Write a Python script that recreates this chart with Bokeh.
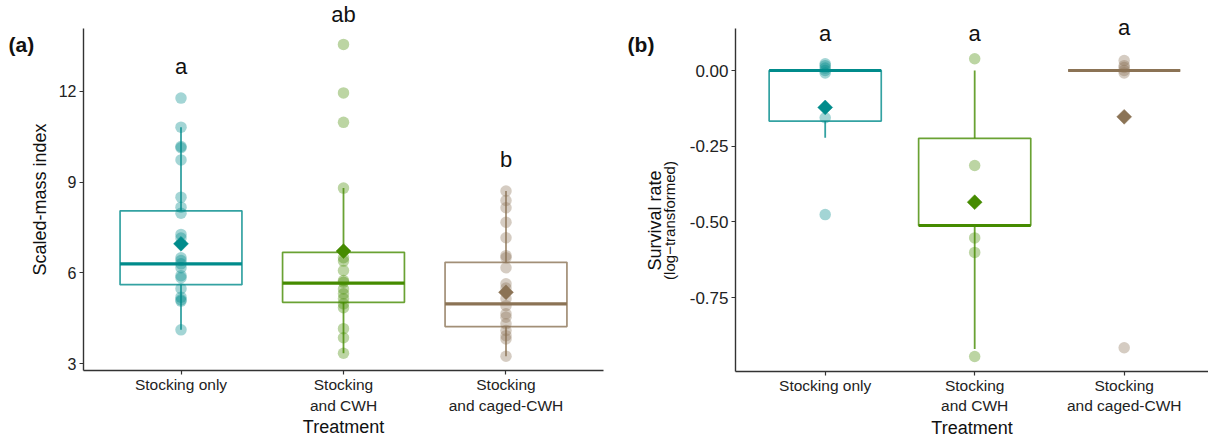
import numpy as np
from bokeh.plotting import figure
from bokeh.models import ColumnDataSource, FixedTicker, Range1d, Label, LabelSet
from bokeh.core.properties import value
from bokeh.layouts import row
from bokeh.embed import file_html
from bokeh.resources import INLINE

# ---------------- data ----------------
categories = ["Stocking only", "Stocking\nand CWH", "Stocking\nand caged-CWH"]
cat_pos = [1, 2, 3]
colors_dark = ["#008B8B", "#458B00", "#8B7355"]

# panel (a): scaled-mass index
smi_g1 = [11.77, 10.81, 10.17, 10.13, 9.73, 8.50, 8.17, 7.97, 7.27, 7.15, 6.50, 6.41,
          6.30, 6.17, 5.91, 5.84, 5.48, 5.20, 5.11, 5.07, 4.12]
smi_g2 = [13.54, 11.94, 10.97, 8.80, 6.50, 6.39, 6.08, 5.75, 5.69, 5.47, 5.31, 5.15,
          4.98, 4.85, 4.16, 3.86, 3.35]
smi_g3 = [8.70, 8.39, 8.15, 7.67, 7.16, 6.57, 6.50, 6.17, 5.64, 5.50, 5.15, 4.92,
          4.65, 4.54, 4.32, 4.10, 3.93, 3.82, 3.25]
smi_q1 = [5.61, 5.03, 4.23]
smi_med = [6.30, 5.66, 4.98]
smi_q3 = [8.05, 6.68, 6.35]
smi_wlo = [4.12, 3.35, 3.25]
smi_whi = [10.81, 8.80, 8.70]
smi_mean = [6.96, 6.72, 5.36]
smi_letters = ["a", "ab", "b"]
smi_letter_y = [12.57, 14.27, 9.49]
smi_ticks = [3, 6, 9, 12]
smi_tick_labels = ["3", "6", "9", "12"]

# panel (b): survival rate (log-transformed)
surv_g1 = [0.022, 0.016, 0.008, 0.0, -0.008, -0.156, -0.476]
surv_g2 = [0.039, -0.314, -0.553, -0.601, -0.945]
surv_g3 = [0.033, 0.016, 0.010, 0.0, -0.008, -0.916]
surv_q1 = [-0.167, -0.512, 0.0]
surv_med = [0.0, -0.512, 0.0]
surv_q3 = [0.0, -0.224, 0.0]
surv_wlo = [-0.222, -0.920, 0.0]
surv_whi = [0.0, 0.0, 0.0]
surv_mean = [-0.122, -0.435, -0.153]
surv_letters = ["a", "a", "a"]
surv_letter_y = [0.096, 0.096, 0.118]
surv_ticks = [0.0, -0.25, -0.5, -0.75]
surv_tick_labels = ["0.00", "-0.25", "-0.50", "-0.75"]

FONT = "Liberation Sans"
HALF = 0.375
TXT = "#111111"


def make_panel(width, xr, yr, xb, yb, groups, q1, med, q3, wlo, whi, mean,
               letters, letter_y, ticks, tick_labels, ytick_size, ylabel, tag, tag_xy):
    # the frame covers the whole canvas; axes are pinned with fixed_location
    p = figure(width=width, height=442, output_backend="svg", toolbar_location=None,
               title=None, x_range=Range1d(*xr), y_range=Range1d(*yr),
               min_border_left=0, min_border_right=0, min_border_top=0,
               min_border_bottom=0)
    p.grid.visible = False
    p.outline_line_color = None
    p.background_fill_color = "white"
    p.border_fill_color = "white"

    # boxes
    box = ColumnDataSource(dict(
        x=cat_pos, left=[c - HALF for c in cat_pos], right=[c + HALF for c in cat_pos],
        q1=q1, med=med, q3=q3, wlo=wlo, whi=whi, mean=mean, color=colors_dark))
    p.segment(x0="x", x1="x", y0="q3", y1="whi", source=box, line_color="color",
              line_alpha=0.8, line_width=1.8)
    p.segment(x0="x", x1="x", y0="q1", y1="wlo", source=box, line_color="color",
              line_alpha=0.8, line_width=1.8)
    p.quad(left="left", right="right", bottom="q1", top="q3", source=box,
           fill_color=None, line_color="color", line_alpha=0.8, line_width=1.7)
    p.segment(x0="left", x1="right", y0="med", y1="med", source=box,
              line_color="color", line_width=3.2)

    # points
    xs, ys, cs = [], [], []
    for c, vals, col in zip(cat_pos, groups, colors_dark):
        xs += [c] * len(vals)
        ys += list(vals)
        cs += [col] * len(vals)
    pts = ColumnDataSource(dict(x=xs, y=ys, color=cs))
    p.scatter(x="x", y="y", source=pts, size=11.5, fill_color="color",
              fill_alpha=0.36, line_color=None)

    # mean diamonds
    p.scatter(x="x", y="mean", source=box, marker="square", angle=np.pi / 4,
              size=10.5, fill_color="color", line_color="color", line_width=0.5)

    # significance letters
    lab = ColumnDataSource(dict(x=cat_pos, y=letter_y, text=letters))
    p.add_layout(LabelSet(x="x", y="y", text="text", source=lab, text_align="center",
                          text_baseline="alphabetic", text_font=value(FONT),
                          text_font_size=value("22px"), text_color=value(TXT)))

    # x axis
    xa = p.xaxis[0]
    xa.fixed_location = yb[0]
    xa.bounds = xb
    xa.ticker = FixedTicker(ticks=cat_pos)
    xa.major_label_overrides = {c: t for c, t in zip(cat_pos, categories)}
    xa.axis_label = "Treatment"
    # y axis
    ya = p.yaxis[0]
    ya.fixed_location = xb[0]
    ya.bounds = yb
    ya.ticker = FixedTicker(ticks=ticks)
    ya.major_label_overrides = {t: s for t, s in zip(ticks, tick_labels)}
    for ax in (xa, ya):
        ax.axis_line_color = "#333333"
        ax.axis_line_width = 1.4
        ax.major_tick_line_color = "#333333"
        ax.major_tick_line_width = 1.2
        ax.major_tick_out = 4
        ax.major_tick_in = 0
        ax.minor_tick_line_color = None
        ax.major_label_text_font = FONT
        ax.major_label_text_color = "#222222"
        ax.axis_label_text_font = FONT
        ax.axis_label_text_font_style = "normal"
        ax.axis_label_text_color = TXT
        ax.axis_label_text_font_size = "18px"
    xa.major_label_text_font_size = "15.5px"
    xa.major_label_standoff = 2
    xa.axis_label_standoff = 0
    ya.major_label_text_font_size = ytick_size
    ya.major_label_standoff = 3
    ya.axis_label_standoff = 6

    if isinstance(ylabel, str):
        ya.axis_label = ylabel
    else:
        ya.axis_label = None
        for text, size, lx, ly in ylabel:
            p.add_layout(Label(x=lx, y=ly, text=text, angle=np.pi / 2,
                               text_align="center", text_baseline="middle",
                               text_font=FONT, text_font_size=size, text_color=TXT))

    p.add_layout(Label(x=tag_xy[0], y=tag_xy[1], text=tag, text_font=FONT,
                       text_font_style="bold", text_font_size="21px",
                       text_baseline="alphabetic", text_color=TXT))
    return p


# panel (a): 162.5 px per category, 30.3 px per index unit, y axis at 83 px
pa = make_panel(608, (-0.1108, 3.6308), (0.403, 14.99), (0.4, 3.6), (2.78, 14.07),
                [smi_g1, smi_g2, smi_g3], smi_q1, smi_med, smi_q3, smi_wlo, smi_whi,
                smi_mean, smi_letters, smi_letter_y, smi_ticks, smi_tick_labels, "16px",
                "Scaled-mass index", "(a)", (-0.0615, 13.54))
# panel (b): 149.5 px per category, 302.7 px per unit, y axis at 127 px
pb = make_panel(600, (-0.4495, 3.564), (-1.229, 0.2313), (0.4, 3.564), (-0.993, 0.139),
                [surv_g1, surv_g2, surv_g3], surv_q1, surv_med, surv_q3, surv_wlo,
                surv_whi, surv_mean, surv_letters, surv_letter_y, surv_ticks,
                surv_tick_labels, "17px",
                [("Survival rate", "18px", -0.14, -0.4955),
                 ("(log\u2212transformed)", "15px", -0.0415, -0.4955)],
                "(b)", (-0.322, 0.0859))

layout = row(pa, pb)
open("out.html", "w").write(file_html(layout, INLINE))
